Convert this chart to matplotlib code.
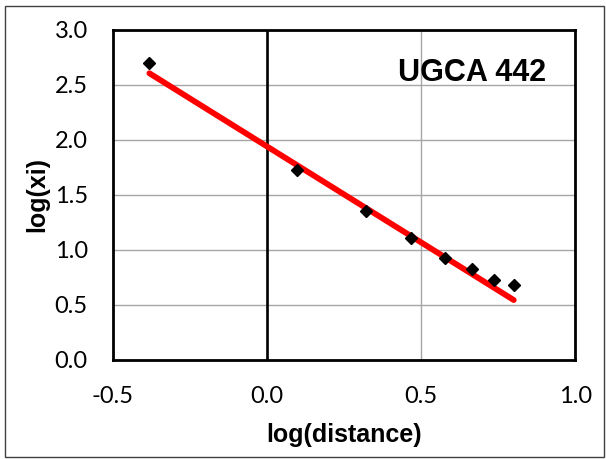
import numpy as np
import matplotlib.pyplot as plt
from matplotlib.patches import Rectangle

# data
log_distance = [-0.381, 0.097, 0.321, 0.468, 0.577, 0.665, 0.738, 0.801]
log_xi = [2.703, 1.727, 1.354, 1.106, 0.927, 0.824, 0.727, 0.682]

# trend line as drawn (slope, intercept)
trend_slope = -1.744
trend_intercept = 1.942

x_ticks = [-0.5, 0.0, 0.5, 1.0]
y_ticks = [0.0, 0.5, 1.0, 1.5, 2.0, 2.5, 3.0]

fig = plt.figure(figsize=(6.06, 4.59), dpi=100)
ax = fig.add_axes([0.186, 0.2157, 0.763, 0.719])

# outer chart border
fig.patches.append(Rectangle((5 / 606, 2 / 459), 599 / 606, 451 / 459,
                             transform=fig.transFigure, fill=False,
                             edgecolor="#404040", linewidth=1.0))

ax.set_xlim(-0.5, 1.0)
ax.set_ylim(0.0, 3.0)
ax.set_xticks(x_ticks)
ax.set_yticks(y_ticks)
ax.set_xticklabels([f"{v:.1f}" for v in x_ticks], family="Lato", fontsize=17)
ax.set_yticklabels([f"{v:.1f}" for v in y_ticks], family="Lato", fontsize=17)
ax.tick_params(length=0)
ax.tick_params(axis="x", pad=19)
ax.tick_params(axis="y", pad=18)

ax.grid(True, color="#a6a6a6", linewidth=1.0)
ax.set_axisbelow(True)
for s in ax.spines.values():
    s.set_linewidth(2.0)
    s.set_color("black")

ax.axvline(0.0, color="black", linewidth=1.9, zorder=2)

xs = np.array([min(log_distance), max(log_distance)])
ax.plot(xs, trend_slope * xs + trend_intercept, color="#ff0000",
        linewidth=4.2, solid_capstyle="round", zorder=3)
ax.plot(log_distance, log_xi, linestyle="none", marker="D", markersize=6.5,
        color="black", zorder=4)

ax.text(0.907, 2.536, "UGCA 442", ha="right", va="baseline",
        family="Liberation Sans", fontweight="bold", fontsize=22)

ax.set_xlabel("log(distance)", family="Liberation Sans", fontweight="bold",
              fontsize=18, labelpad=11)
ax.set_ylabel("log(xi)", family="Liberation Sans", fontweight="bold",
              fontsize=18, labelpad=4)

plt.savefig("out.png", dpi=100)
